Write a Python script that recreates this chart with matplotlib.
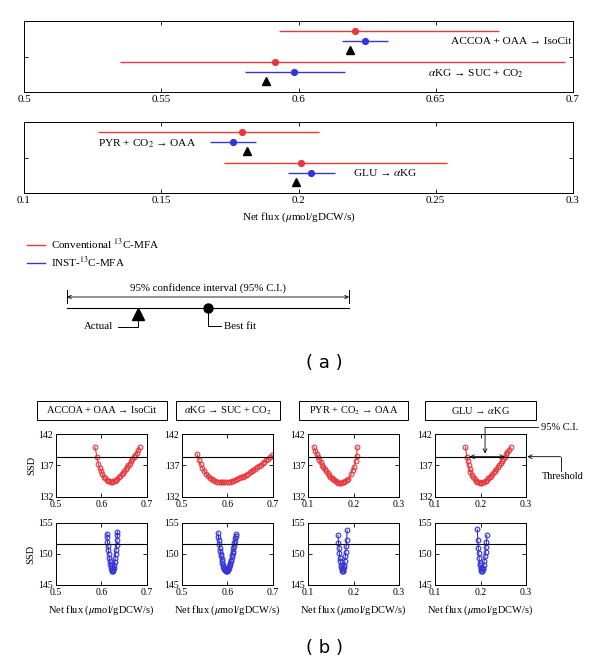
import matplotlib
import matplotlib.pyplot as plt
from matplotlib.lines import Line2D
from matplotlib.patches import Rectangle
from matplotlib.transforms import blended_transform_factory

matplotlib.use("Agg")

plt.rcParams["font.family"] = ["Liberation Serif", "DejaVu Serif"]
plt.rcParams["mathtext.fontset"] = "stix"
plt.rcParams["font.size"] = 7.5

W, H = 600, 666
RED = "#e8383d"
BLUE = "#3434d8"

# ---------------- panel (a) data ----------------
labels_a_top = ["ACCOA + OAA → IsoCit", "$\\alpha$KG → SUC + CO$_2$"]
conv_lo_top = [0.593, 0.535]
conv_hi_top = [0.673, 0.697]
conv_best_top = [0.6207, 0.5915]
inst_lo_top = [0.616, 0.5806]
inst_hi_top = [0.6327, 0.6169]
inst_best_top = [0.6242, 0.5982]
actual_top = [0.6188, 0.588]

labels_a_bot = ["PYR + CO$_2$ → OAA", "GLU → $\\alpha$KG"]
conv_lo_bot = [0.127, 0.173]
conv_hi_bot = [0.2076, 0.2542]
conv_best_bot = [0.1793, 0.201]
inst_lo_bot = [0.1676, 0.1963]
inst_hi_bot = [0.1844, 0.2133]
inst_best_bot = [0.176, 0.2046]
actual_bot = [0.1813, 0.1992]

# ---------------- panel (b) data ----------------
titles_b = ["ACCOA + OAA → IsoCit", "$\\alpha$KG → SUC + CO$_2$",
            "PYR + CO$_2$ → OAA", "GLU → $\\alpha$KG"]
xlims_b = [(0.5, 0.7), (0.5, 0.7), (0.1, 0.3), (0.1, 0.3)]
xticks_b = [[0.5, 0.6, 0.7], [0.5, 0.6, 0.7], [0.1, 0.2, 0.3], [0.1, 0.2, 0.3]]
conv_threshold = 138.4
inst_threshold = 151.6

conv_flux_1 = [0.586, 0.590, 0.593, 0.596, 0.599, 0.602, 0.605, 0.608, 0.611, 0.614,
               0.617, 0.620, 0.623, 0.626, 0.629, 0.632, 0.635, 0.638, 0.641, 0.644,
               0.647, 0.650, 0.653, 0.656, 0.659, 0.662, 0.665, 0.668, 0.671, 0.674,
               0.677, 0.680, 0.684]
conv_ssd_1 = [139.9, 138.3, 137.3, 136.6, 136.1, 135.6, 135.2, 134.95, 134.75, 134.6,
              134.5, 134.45, 134.45, 134.5, 134.6, 134.75, 134.9, 135.1, 135.35, 135.6,
              135.85, 136.1, 136.4, 136.7, 137.0, 137.3, 137.65, 138.0, 138.35, 138.7,
              139.05, 139.4, 139.9]

conv_flux_2 = [0.533, 0.537, 0.541, 0.545, 0.549, 0.553, 0.557, 0.561, 0.565, 0.569,
               0.573, 0.577, 0.581, 0.585, 0.589, 0.593, 0.597, 0.601, 0.605, 0.609,
               0.613, 0.617, 0.621, 0.625, 0.629, 0.633, 0.637, 0.641, 0.645, 0.649,
               0.653, 0.657, 0.661, 0.665, 0.669, 0.673, 0.677, 0.681, 0.685, 0.689,
               0.693, 0.698]
conv_ssd_2 = [138.8, 137.9, 137.2, 136.6, 136.1, 135.7, 135.35, 135.05, 134.85, 134.7,
              134.55, 134.45, 134.4, 134.35, 134.33, 134.33, 134.35, 134.4, 134.45, 134.5,
              134.6, 134.7, 134.8, 134.95, 135.1, 135.25, 135.4, 135.55, 135.7, 135.9,
              136.1, 136.3, 136.5, 136.7, 136.9, 137.1, 137.35, 137.6, 137.85, 138.1,
              138.3, 138.6]

conv_flux_3 = [0.113, 0.116, 0.119, 0.122, 0.125, 0.128, 0.131, 0.134, 0.137, 0.140,
               0.143, 0.146, 0.149, 0.152, 0.155, 0.158, 0.161, 0.164, 0.167, 0.170,
               0.173, 0.176, 0.179, 0.182, 0.185, 0.189, 0.195, 0.198, 0.201, 0.205,
               0.207, 0.208]
conv_ssd_3 = [139.9, 139.3, 138.8, 138.35, 137.9, 137.5, 137.1, 136.75, 136.4, 136.1,
              135.8, 135.5, 135.25, 135.0, 134.8, 134.65, 134.5, 134.4, 134.3, 134.3,
              134.3, 134.35, 134.45, 134.55, 134.7, 134.8, 135.6, 136.3, 136.8, 137.7,
              138.5, 139.9]

conv_flux_4 = [0.167, 0.170, 0.172, 0.174, 0.176, 0.178, 0.181, 0.184, 0.187, 0.190,
               0.193, 0.196, 0.199, 0.202, 0.205, 0.208, 0.211, 0.214, 0.217, 0.220,
               0.223, 0.226, 0.229, 0.232, 0.235, 0.238, 0.241, 0.244, 0.247, 0.250,
               0.253, 0.256, 0.259, 0.262, 0.266]
conv_ssd_4 = [139.9, 138.4, 137.7, 137.0, 136.5, 136.0, 135.5, 135.1, 134.8, 134.6,
              134.45, 134.35, 134.3, 134.3, 134.35, 134.45, 134.6, 134.75, 134.95, 135.15,
              135.4, 135.65, 135.9, 136.2, 136.5, 136.8, 137.1, 137.4, 137.75, 138.1,
              138.4, 138.75, 139.1, 139.4, 139.9]

inst_flux_1 = [0.612, 0.612, 0.613, 0.614, 0.615, 0.616, 0.617, 0.618, 0.619, 0.620,
               0.621, 0.622, 0.623, 0.624, 0.625, 0.626, 0.627, 0.628, 0.629, 0.630,
               0.631, 0.632, 0.633, 0.634, 0.635, 0.635]
inst_ssd_1 = [153.3, 152.7, 152.0, 151.3, 150.6, 150.0, 149.4, 148.9, 148.4, 148.0,
              147.7, 147.45, 147.3, 147.25, 147.3, 147.5, 147.8, 148.2, 148.7, 149.3,
              150.0, 150.7, 151.5, 152.3, 153.0, 153.6]

inst_flux_2 = [0.579, 0.580, 0.581, 0.582, 0.583, 0.584, 0.585, 0.586, 0.587, 0.588,
               0.589, 0.590, 0.591, 0.592, 0.593, 0.594, 0.595, 0.596, 0.597, 0.598,
               0.599, 0.600, 0.601, 0.602, 0.603, 0.604, 0.605, 0.606, 0.607, 0.608,
               0.609, 0.610, 0.611, 0.612, 0.613, 0.614, 0.615, 0.616, 0.617, 0.618,
               0.619]
inst_ssd_2 = [153.4, 152.8, 152.2, 151.6, 151.0, 150.5, 150.0, 149.6, 149.2, 148.85,
              148.5, 148.2, 147.95, 147.75, 147.6, 147.45, 147.35, 147.28, 147.25, 147.25,
              147.28, 147.35, 147.45, 147.6, 147.8, 148.0, 148.25, 148.5, 148.8, 149.1,
              149.45, 149.8, 150.15, 150.5, 150.9, 151.3, 151.7, 152.1, 152.5, 152.9,
              153.2]

inst_flux_3 = [0.166, 0.167, 0.168, 0.169, 0.170, 0.171, 0.172, 0.173, 0.174, 0.175,
               0.176, 0.177, 0.178, 0.179, 0.180, 0.181, 0.182, 0.183, 0.184, 0.185,
               0.186]
inst_ssd_3 = [153.0, 151.8, 151.0, 150.2, 149.4, 148.8, 148.3, 147.9, 147.5, 147.3,
              147.25, 147.3, 147.5, 147.85, 148.3, 148.9, 149.6, 150.4, 151.3, 152.3,
              153.8]

inst_flux_4 = [0.193, 0.194, 0.195, 0.196, 0.197, 0.198, 0.199, 0.200, 0.201, 0.202,
               0.203, 0.204, 0.205, 0.206, 0.207, 0.208, 0.210, 0.211, 0.212, 0.213,
               0.214]
inst_ssd_4 = [154.0, 152.2, 151.0, 150.1, 149.3, 148.6, 148.2, 147.8, 147.5, 147.3,
              147.25, 147.3, 147.5, 147.8, 148.3, 148.9, 149.6, 150.3, 151.1, 152.0,
              153.0]

conv_flux = [conv_flux_1, conv_flux_2, conv_flux_3, conv_flux_4]
conv_ssd = [conv_ssd_1, conv_ssd_2, conv_ssd_3, conv_ssd_4]
inst_flux = [inst_flux_1, inst_flux_2, inst_flux_3, inst_flux_4]
inst_ssd = [inst_ssd_1, inst_ssd_2, inst_ssd_3, inst_ssd_4]
glu_ci = [0.176, 0.253]


def px_axes(fig, left, top, width, height):
    return fig.add_axes([left / W, 1 - (top + height) / H, width / W, height / H])


def style_box(ax, size=7):
    ax.tick_params(direction="in", length=3, width=0.6, top=True, right=True,
                   labelsize=size, pad=2)
    for s in ax.spines.values():
        s.set_linewidth(0.7)


fig = plt.figure(figsize=(W / 100, H / 100), dpi=100)

# ---------------- panel (a) ----------------
row_y = [0.28, 1.15]
panels_a = [
    (21, (0.5, 0.7), [0.5, 0.55, 0.6, 0.65, 0.7], ["0.5", "0.55", "0.6", "0.65", "0.7"],
     labels_a_top, conv_lo_top, conv_hi_top, conv_best_top,
     inst_lo_top, inst_hi_top, inst_best_top, actual_top,
     [(0.997, 0.58, "right"), (0.736, 1.5, "left")]),
    (122, (0.1, 0.3), [0.1, 0.15, 0.2, 0.25, 0.3], ["0.1", "0.15", "0.2", "0.25", "0.3"],
     labels_a_bot, conv_lo_bot, conv_hi_bot, conv_best_bot,
     inst_lo_bot, inst_hi_bot, inst_best_bot, actual_bot,
     [(0.1345, 0.6, "left"), (0.599, 1.42, "left")]),
]
for (top, xlim, xt, xtl, labs, clo, chi, cb, ilo, ihi, ib, act, lab_pos) in panels_a:
    ax = px_axes(fig, 24, top, 549, 71)
    trans = blended_transform_factory(ax.transAxes, ax.transData)
    for k in range(2):
        y0 = row_y[k]
        ax.hlines(y0, clo[k], chi[k], color=RED, lw=1.0)
        ax.plot(cb[k], y0, "o", color=RED, ms=4.2)
        ax.hlines(y0 + 0.28, ilo[k], ihi[k], color=BLUE, lw=1.0)
        ax.plot(ib[k], y0 + 0.28, "o", color=BLUE, ms=4.2)
        ax.plot(act[k], y0 + 0.55, "^", color="black", ms=6)
        lx, ly, ha = lab_pos[k]
        ax.text(lx, ly, labs[k], transform=trans, ha=ha, va="center", fontsize=8.2)
    ax.set_xlim(*xlim)
    ax.set_ylim(2, 0)
    ax.set_xticks(xt)
    ax.set_xticklabels(xtl)
    ax.set_yticks([1.0])
    ax.set_yticklabels([])
    style_box(ax, 8)
    if top == 122:
        ax.set_xlabel("Net flux ($\\mu$mol/gDCW/s)", fontsize=8, labelpad=4)

# legend
handles = [Line2D([], [], color=RED, lw=1.0), Line2D([], [], color=BLUE, lw=1.0)]
fig.legend(handles, ["Conventional $^{13}$C-MFA", "INST-$^{13}$C-MFA"],
           loc="upper left", bbox_to_anchor=(27 / W, 1 - 237 / H), frameon=False,
           fontsize=8, handlelength=1.6, handletextpad=0.6, labelspacing=0.3,
           borderpad=0, borderaxespad=0)

# schematic key: confidence interval spans 0..1
ci_key = [0.0, 1.0]
best_key = 0.5
actual_key = 0.25
sk = px_axes(fig, 40, 280, 340, 55)
sk.set_xlim(-27 / 282, 1 + 31 / 282)
sk.set_ylim(55, 0)
sk.axis("off")
sk.plot(ci_key, [28, 28], color="black", lw=0.8)
for xv in ci_key:
    sk.plot([xv, xv], [10, 23], color="black", lw=0.7)
sk.annotate("", xy=(ci_key[0], 17), xytext=(ci_key[1], 17),
            arrowprops=dict(arrowstyle="<->", lw=0.6, color="black", shrinkA=0,
                            shrinkB=0, mutation_scale=6))
sk.text(0.5, 8, "95% confidence interval (95% C.I.)", ha="center", va="center", fontsize=7.8)
sk.plot(best_key, 28, "o", color="black", ms=6.5)
sk.plot(actual_key, 33.5, "^", color="black", ms=9)
sk.plot([actual_key - 0.07, actual_key, actual_key], [47, 47, 38], color="black", lw=0.7)
sk.text(actual_key - 0.085, 46.5, "Actual", ha="right", va="center", fontsize=7.8)
sk.plot([best_key, best_key, best_key + 0.045], [33, 46, 46], color="black", lw=0.7)
sk.text(best_key + 0.058, 46.5, "Best fit", ha="left", va="center", fontsize=7.8)

fig.text(324 / W, 1 - 363 / H, "( a )", ha="center", va="center", fontsize=13,
         family="DejaVu Sans")

# ---------------- panel (b) ----------------
lefts_b = [56, 182, 308, 435]
box_w = [130, 104, 109, 110]
for i in range(4):
    left = lefts_b[i]
    cx = left + 45.5
    fig.add_artist(Rectangle(((cx - box_w[i] / 2) / W, 1 - 420 / H), box_w[i] / W, 19 / H,
                             transform=fig.transFigure, fill=False, lw=0.7, ec="black"))
    fig.text(cx / W, 1 - 410.5 / H, titles_b[i], ha="center", va="center", fontsize=7.5)

    axt = px_axes(fig, left, 434, 91, 63)
    axt.plot(conv_flux[i], conv_ssd[i], "-o", color=RED, lw=0.8, ms=3.4, mfc="none", mew=0.8)
    axt.axhline(conv_threshold, color="black", lw=0.8)
    axt.set_xlim(*xlims_b[i])
    axt.set_ylim(132, 142)
    axt.set_xticks(xticks_b[i])
    axt.set_yticks([132, 137, 142])
    style_box(axt, 7)

    axb = px_axes(fig, left, 523, 91, 62)
    axb.plot(inst_flux[i], inst_ssd[i], "-o", color=BLUE, lw=0.8, ms=3.4, mfc="none", mew=0.8)
    axb.axhline(inst_threshold, color="black", lw=0.8)
    axb.set_xlim(*xlims_b[i])
    axb.set_ylim(145, 155)
    axb.set_xticks(xticks_b[i])
    axb.set_yticks([145, 150, 155])
    style_box(axb, 7)
    axb.set_xlabel("Net flux ($\\mu$mol/gDCW/s)", fontsize=7.5, labelpad=5)
    if i == 0:
        axt.set_ylabel("SSD", fontsize=7.5, labelpad=2)
        axb.set_ylabel("SSD", fontsize=7.5, labelpad=2)

    if i == 3:
        # 95% C.I. double arrow along the threshold
        axt.annotate("", xy=(glu_ci[0], conv_threshold), xytext=(glu_ci[1], conv_threshold),
                     arrowprops=dict(arrowstyle="<->", lw=0.6, color="black", shrinkA=0,
                                     shrinkB=0, mutation_scale=7))
        axt.plot([0.21, 0.326], [143.1, 143.1], color="black", lw=0.6, clip_on=False)
        axt.annotate("", xy=(0.21, 138.9), xytext=(0.21, 143.1), annotation_clip=False,
                     arrowprops=dict(arrowstyle="->", lw=0.6, color="black", shrinkA=0,
                                     shrinkB=0, mutation_scale=7))
        axt.text(0.332, 143.1, "95% C.I.", ha="left", va="center", fontsize=7.5)
        # threshold pointer
        axt.annotate("", xy=(0.303, conv_threshold), xytext=(0.376, conv_threshold),
                     annotation_clip=False,
                     arrowprops=dict(arrowstyle="->", lw=0.6, color="black", shrinkA=0,
                                     shrinkB=0, mutation_scale=7))
        axt.plot([0.376, 0.376], [conv_threshold, 136.2], color="black", lw=0.6, clip_on=False)
        axt.text(0.38, 135.9, "Threshold", ha="center", va="top", fontsize=7.5)

fig.text(324 / W, 1 - 648 / H, "( b )", ha="center", va="center", fontsize=13,
         family="DejaVu Sans")

fig.savefig("out.png", dpi=100)
